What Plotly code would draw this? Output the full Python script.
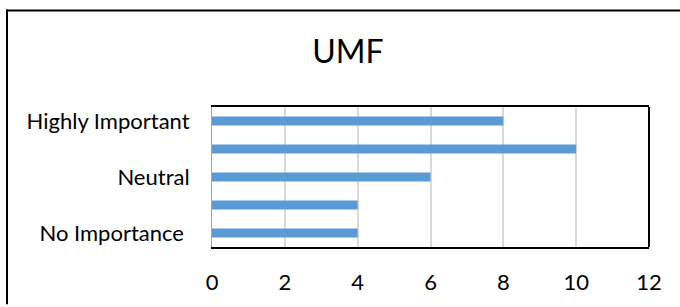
import plotly.graph_objects as go

title_text = "UMF"
y_positions = [0, 1, 2, 3, 4]
y_labels = ["No Importance ", "", "Neutral", "", "Highly Important"]
values = [4, 4, 6, 10, 8]
x_ticks = [0, 2, 4, 6, 8, 10, 12]

W, H = 680, 307
L, R, T, B = 212, 31, 107, 58
pw = W - L - R
ph = H - T - B

def px_x(p):
    return (p - L) / pw

def px_y(p):
    return (H - B - p) / ph

FONT = "Lato"

fig = go.Figure(go.Bar(
    x=values, y=y_positions, orientation="h",
    marker=dict(color="#5B9BD5", line=dict(width=0)),
    width=0.33,
))

fig.update_layout(
    width=W, height=H,
    margin=dict(l=L, r=R, t=T, b=B),
    paper_bgcolor="white", plot_bgcolor="white",
    showlegend=False,
    title=dict(text=title_text, x=348 / W, xanchor="center", xref="container",
               y=1 - 52 / H, yanchor="middle", yref="container",
               font=dict(family=FONT, size=32, color="#000000")),
    font=dict(family=FONT, size=22, color="#000000"),
)
fig.update_xaxes(
    range=[0, 12], tickvals=x_ticks, ticktext=[str(v) for v in x_ticks],
    showgrid=True, gridcolor="#D9D9D9", gridwidth=2,
    showline=True, linecolor="#000000", linewidth=2, mirror=True,
    ticks="", ticklabelstandoff=15, zeroline=False,
    tickfont=dict(family=FONT, size=22, color="#000000"),
)
fig.update_yaxes(
    range=[-0.5, 4.5], tickvals=y_positions, ticktext=y_labels,
    showgrid=False, zeroline=False,
    showline=True, linecolor="#A6A6A6", linewidth=1,
    ticks="", ticklabelstandoff=17,
    tickfont=dict(family=FONT, size=22, color="#000000"),
)
# right border of plot area
fig.add_shape(type="line", xref="paper", yref="paper", x0=1, x1=1, y0=0, y1=1,
              line=dict(color="#000000", width=2))
# outer chart border (top and left edges visible in the frame)
fig.add_shape(type="line", xref="paper", yref="paper",
              x0=px_x(6), x1=px_x(680), y0=px_y(9), y1=px_y(9),
              line=dict(color="#000000", width=2), layer="above")
fig.add_shape(type="line", xref="paper", yref="paper",
              x0=px_x(7), x1=px_x(7), y0=px_y(307), y1=px_y(8),
              line=dict(color="#000000", width=2), layer="above")

fig.write_html("out.html", config={"displayModeBar": False},
               post_script="document.body.style.margin='0px';"
                           "document.body.style.overflow='hidden';"
                           "document.documentElement.style.overflow='hidden';")
